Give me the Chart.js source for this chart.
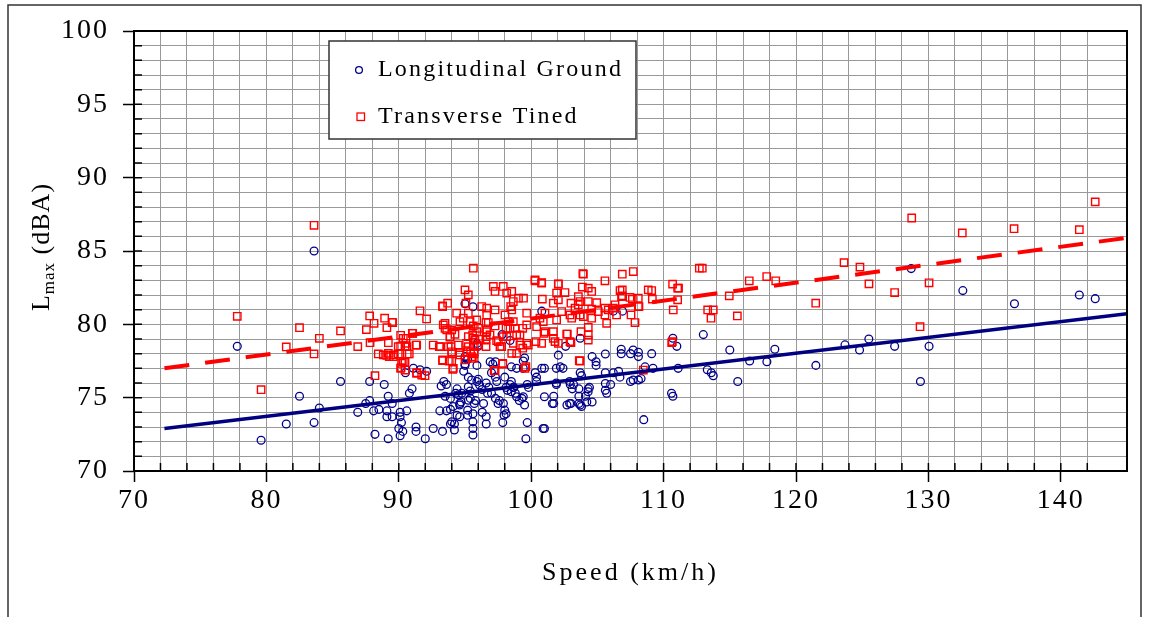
<!DOCTYPE html>
<html>
<head>
<meta charset="utf-8">
<script src="https://cdn.jsdelivr.net/npm/chart.js@4"></script>
<style>
  html, body { margin: 0; padding: 0; background: #fff; }
  #wrap { width: 1153px; height: 617px; position: relative; }
</style>
</head>
<body>
<div id="wrap"><canvas id="chart" width="1153" height="617"></canvas></div>
<script>
// [speed km/h, Lmax dBA]
const groundPoints = [
  [77.8,78.5],[79.6,72.1],[81.5,73.2],[82.5,75.1],[83.6,85.0],[83.6,73.3],[84.0,74.3],[85.6,76.1],
  [86.9,74.0],[87.5,74.6],[87.8,74.8],[87.8,76.1],[88.9,75.9],[89.2,75.1],[89.5,74.6],[88.1,74.1],
  [88.5,74.2],[89.1,74.1],[89.1,73.7],[89.5,73.7],[88.2,72.5],[89.2,72.2],[90.1,74.0],[90.1,73.7],
  [90.2,73.3],[90.0,72.9],[90.1,72.4],[90.3,72.7],[90.6,74.1],[90.8,75.3],[91.0,75.6],[90.5,76.7],
  [91.1,77.0],[91.3,73.0],[91.3,72.7],[92.0,72.2],[91.6,76.9],[92.1,76.8],[92.6,72.9],[93.3,72.7],
  [93.1,74.1],[93.6,74.1],[93.4,76.1],[93.6,75.9],[93.2,75.8],[93.5,75.1],[93.9,74.95],[94.0,73.35],
  [94.2,73.2],[93.9,73.2],[94.2,72.8],[94.1,74.4],[93.9,74.2],[94.4,75.6],[94.3,75.3],[94.6,74.6],
  [94.7,74.7],[94.5,75.2],[94.75,75.3],[94.6,74.5],[94.4,73.8],[94.6,73.7],[95.2,74.15],[95.2,73.8],
  [95.0,77.8],[95.0,77.3],[95.2,77.6],[94.9,76.8],[95.0,77.2],[95.25,76.4],[95.5,76.2],[95.25,75.74],
  [95.4,75.45],[95.4,74.95],[95.25,74.83],[95.7,74.6],[95.8,74.8],[95.6,73.9],[95.6,73.35],[95.6,72.9],
  [95.6,72.45],[95.9,77.2],[95.9,76.1],[96.0,76.25],[96.1,75.86],[96.3,75.56],[96.4,74.6],[96.3,74.0],
  [96.6,73.7],[96.6,73.2],[96.6,76.0],[96.8,75.7],[96.7,75.3],[96.9,77.45],[97.3,77.45],[97.0,76.7],
  [97.1,77.3],[97.3,76.4],[97.4,76.1],[98.0,76.4],[98.1,75.7],[98.2,75.5],[97.0,75.3],[97.3,74.95],
  [97.5,74.6],[97.6,74.8],[97.9,74.6],[98.0,74.15],[97.95,73.8],[97.85,73.3],[98.1,73.9],[98.4,75.9],
  [98.5,75.4],[98.7,75.7],[98.5,77.1],[98.5,76.1],[98.65,75.7],[98.8,75.3],[98.9,75.06],[99.1,74.8],
  [99.3,74.95],[99.4,75.06],[99.7,75.9],[99.8,75.7],[99.5,74.5],[99.7,73.3],[99.6,72.2],[99.4,77.0],
  [99.5,77.7],[98.9,77.0],[99.4,77.5],[100.3,76.7],[100.4,76.4],[100.4,76.1],[100.8,77.0],[101.0,75.06],
  [101.7,75.1],[101.6,74.6],[100.8,80.9],[100.9,72.9],[102.05,77.9],[101.9,77.0],[102.2,77.1],[102.4,77.0],
  [102.9,76.1],[102.95,75.9],[103.2,75.9],[101.9,76.0],[102.7,74.5],[102.9,74.6],[103.6,74.6],[103.8,74.4],
  [104.1,75.1],[104.2,74.7],[104.6,74.7],[103.7,76.7],[103.8,76.5],[103.7,79.05],[104.3,75.6],[104.3,75.4],
  [104.4,75.7],[104.6,77.8],[104.9,77.45],[104.9,77.2],[105.6,77.98],[105.6,75.97],[105.6,75.5],[105.7,75.3],
  [106.0,75.9],[105.6,76.7],[106.2,76.7],[106.6,76.8],[106.7,76.4],[106.8,78.3],[106.8,78.0],[107.5,78.0],
  [107.7,78.25],[108.1,78.1],[108.1,77.8],[109.1,78.0],[107.5,76.1],[107.7,76.2],[108.1,76.2],[108.3,76.3],
  [108.5,73.5],[109.2,77.0],[108.6,77.1],[110.6,75.3],[110.7,75.1],[110.7,79.05],[111.0,78.5],[111.1,77.0],
  [113.0,79.3],[113.3,76.9],[113.6,76.7],[113.75,76.5],[115.0,78.25],[115.6,76.1],[116.5,77.5],[117.8,77.45],
  [118.4,78.3],[121.5,77.2],[123.7,78.6],[124.8,78.25],[125.5,79.0],[127.45,78.5],[128.7,83.8],[129.4,76.1],
  [130.05,78.5],[132.6,82.3],[136.5,81.4],[141.4,82.0],[142.6,81.75],[95.6,81.2],[95.0,81.4],[96.0,78.5],
  [95.9,78.7],[97.8,79.3],[98.4,78.9],[102.6,78.5],[106.9,80.9],[106.2,80.9],[101.0,77.0],[103.1,75.6],
  [103.0,74.6],[103.7,74.5],[101.7,74.6],[101.0,72.9],[101.9,75.9],[103.6,75.6],[103.6,75.1]
];

const tinedPoints = [
  [83.6,86.75],[77.8,80.55],[79.6,75.54],[81.5,78.46],[82.5,79.77],[83.6,77.98],[84.0,79.05],[85.6,79.55],
  [86.9,78.48],[87.55,79.64],[87.8,80.57],[88.13,80.07],[88.93,80.42],[89.1,79.77],[89.5,80.14],[87.83,78.75],
  [88.2,76.5],[88.45,77.98],[89.09,77.89],[89.28,77.79],[89.58,77.79],[89.96,77.98],[90.79,77.98],[89.21,78.75],
  [89.96,78.48],[90.14,79.25],[90.14,78.52],[90.6,78.48],[90.54,79.05],[91.02,79.39],[91.35,78.59],[90.17,77.04],
  [90.47,77.41],[91.35,76.66],[91.98,76.5],[91.6,80.92],[92.1,80.37],[95.63,83.83],[89.54,80.12],[90.54,78.71],
  [91.3,78.59],[90.64,77.98],[89.64,77.91],[89.21,78.02],[88.83,77.91],[90.34,77.45],[90.14,77.0],[91.73,76.54],
  [92.6,78.59],[93.11,78.48],[93.31,81.26],[93.69,81.44],[93.36,79.96],[93.49,79.73],[94.0,79.62],[93.87,79.12],
  [94.37,80.76],[94.87,80.42],[94.62,80.18],[93.74,78.48],[94.0,78.13],[94.49,78.59],[94.62,77.91],[93.31,77.57],
  [94.0,77.52],[94.12,77.0],[95.0,82.35],[95.25,82.01],[95.07,81.44],[95.25,80.76],[95.38,80.18],[95.63,79.89],
  [95.88,80.3],[96.01,79.73],[96.26,81.21],[96.64,81.1],[95.25,79.16],[95.63,79.05],[95.25,78.48],[95.63,78.48],
  [95.93,78.59],[96.13,78.98],[95.68,77.98],[95.5,77.79],[96.64,80.64],[96.59,80.12],[96.64,79.5],[96.59,78.93],
  [96.89,79.28],[97.27,80.98],[97.14,82.58],[97.27,82.24],[97.89,82.58],[98.15,82.13],[98.53,82.24],[97.52,78.82],
  [97.77,78.48],[97.89,79.16],[98.1,79.73],[98.27,80.18],[98.02,80.64],[98.53,80.98],[98.65,80.18],[98.78,79.73],
  [98.9,79.28],[98.65,78.71],[98.53,78.02],[99.15,78.59],[99.15,79.28],[99.36,79.73],[99.66,80.76],[99.66,78.71],
  [99.04,81.78],[99.42,81.78],[99.66,79.96],[100.29,83.03],[100.79,82.81],[100.84,81.72],[100.91,80.18],[100.66,80.42],
  [100.41,79.84],[100.36,78.82],[100.79,78.71],[100.97,79.39],[98.65,81.55],[98.45,81.21],[99.53,77.0],[97.85,77.29],
  [97.2,76.84],[95.0,77.57],[95.12,78.13],[103.94,83.42],[105.57,82.97],[106.88,83.42],[107.71,83.6],[112.92,83.83],
  [102.05,82.74],[101.92,82.13],[102.55,82.17],[102.05,81.67],[101.67,81.44],[103.56,81.89],[103.86,82.54],[104.31,82.47],
  [104.57,82.24],[103.69,81.55],[104.31,81.55],[104.95,81.48],[103.56,81.33],[103.0,81.44],[103.31,81.1],[102.3,80.87],
  [102.93,80.64],[103.06,80.42],[103.69,80.64],[103.94,80.53],[104.57,81.03],[104.57,80.42],[105.07,80.87],[105.57,81.1],
  [105.57,80.64],[105.7,80.07],[106.2,81.1],[106.45,80.64],[106.33,81.33],[105.82,80.98],[106.88,82.35],[106.88,81.94],
  [107.64,81.72],[108.09,81.78],[108.09,81.21],[109.1,82.3],[109.15,81.72],[107.54,80.64],[107.84,80.12],[110.68,82.74],
  [111.06,82.47],[111.06,81.67],[110.73,80.98],[104.31,79.8],[104.31,79.28],[104.31,78.93],[103.76,79.5],[102.68,79.34],
  [102.93,78.82],[101.67,79.05],[101.8,78.82],[102.05,78.71],[101.04,79.5],[101.92,80.3],[101.04,80.76],[103.63,77.52],
  [110.66,78.82],[108.47,76.88],[100.29,82.97],[100.79,82.85],[102.05,82.76],[103.9,83.45],[108.84,82.35],[108.14,81.21],
  [106.71,82.3],[106.82,81.89],[107.46,81.83],[112.7,83.83],[110.61,78.75],[103.69,77.5],[90.34,79.05],[91.05,79.39],
  [90.47,78.48],[90.21,77.34],[90.47,76.88],[91.35,76.7],[93.06,78.48],[93.31,77.52],[93.81,77.5],[93.31,81.21],
  [93.49,80.07],[93.62,79.62],[93.87,79.16],[93.94,78.48],[94.24,79.32],[94.0,77.98],[94.62,78.07],[95.12,78.71],
  [95.42,78.13],[95.68,78.07],[95.63,77.68],[94.07,76.93],[95.75,78.93],[95.58,79.28],[95.88,79.5],[96.64,79.62],
  [97.27,79.89],[96.59,78.48],[96.59,79.16],[96.76,80.12],[97.39,78.89],[97.64,78.48],[98.15,79.16],[98.4,79.73],
  [97.85,77.34],[99.6,77.11],[98.9,78.02],[99.36,78.37],[99.78,78.59],[97.27,76.84],[101.67,79.5],[102.73,79.34],
  [103.0,78.75],[113.33,80.98],[113.75,80.98],[113.58,80.42],[114.96,81.94],[115.57,80.57],[116.47,82.97],[117.79,83.26],
  [118.47,82.97],[121.49,81.44],[123.63,84.2],[124.83,83.9],[125.51,82.76],[127.45,82.17],[128.74,87.25],[129.37,79.84],
  [130.05,82.83],[132.56,86.23],[136.47,86.52],[141.4,86.45],[142.6,88.35],[111.13,82.47]
];

// regression lines, end points
const groundFit = [[72.3, 72.9], [145, 80.73]];
const tinedFit = [[72.3, 77.0], [145, 85.9]];

const xRange = [70, 145];
const yRange = [70, 100];
const xMajor = 10, xMinor = 2;
const yMajor = 5, yMinor = 1;

const SERIF = "'Liberation Serif', 'Times New Roman', serif";
const NAVY = "#000080";
const BLUE = "#00008b";
const RED = "#ff0000";

const toXY = arr => arr.map(p => ({ x: p[0], y: p[1] }));

// inner minor ticks, box border, legend, axis titles
const decorations = {
  id: "decorations",
  beforeDraw(chart) {
    chart.ctx.letterSpacing = "2px";
  },
  afterDraw(chart) {
    const { ctx, chartArea: a, scales } = chart;
    ctx.save();
    ctx.letterSpacing = "0px";

    // outer frame of the figure
    ctx.strokeStyle = "#333";
    ctx.lineWidth = 1.5;
    ctx.beginPath();
    ctx.moveTo(8, 617);
    ctx.lineTo(8, 5);
    ctx.lineTo(1141, 5);
    ctx.lineTo(1141, 617);
    ctx.stroke();

    // inner ticks
    ctx.strokeStyle = "#000";
    ctx.lineWidth = 1.5;
    ctx.beginPath();
    scales.y.ticks.forEach(t => {
      const y = scales.y.getPixelForValue(t.value);
      ctx.moveTo(a.left, y);
      ctx.lineTo(a.left + 8, y);
    });
    scales.x.ticks.forEach(t => {
      const x = scales.x.getPixelForValue(t.value);
      ctx.moveTo(x, a.bottom);
      ctx.lineTo(x, a.bottom - 8);
    });
    ctx.stroke();

    // plot box
    ctx.lineWidth = 2;
    ctx.strokeRect(a.left, a.top, a.right - a.left, a.bottom - a.top);

    // legend
    const lx = 329, ly = 41, lw = 307, lh = 98;
    ctx.fillStyle = "#fff";
    ctx.fillRect(lx, ly, lw, lh);
    ctx.strokeStyle = "#333";
    ctx.lineWidth = 1.5;
    ctx.strokeRect(lx, ly, lw, lh);

    ctx.lineWidth = 1.3;
    ctx.strokeStyle = BLUE;
    ctx.beginPath();
    ctx.arc(359, 70, 3.4, 0, Math.PI * 2);
    ctx.stroke();
    ctx.strokeStyle = RED;
    ctx.strokeRect(357, 113, 7.5, 7.5);

    ctx.fillStyle = "#000";
    ctx.font = "24px " + SERIF;
    ctx.letterSpacing = "2.2px";
    ctx.textAlign = "left";
    ctx.textBaseline = "middle";
    ctx.fillText(chart.data.datasets[3].label, 378, 70);
    ctx.fillText(chart.data.datasets[2].label, 378, 117);

    // x title
    ctx.font = "26px " + SERIF;
    ctx.letterSpacing = "3px";
    ctx.textAlign = "center";
    ctx.fillText("Speed (km/h)", (a.left + a.right) / 2, 573);

    // y title with subscript
    ctx.translate(40, 247);
    ctx.rotate(-Math.PI / 2);
    ctx.letterSpacing = "1px";
    ctx.textAlign = "left";
    ctx.textBaseline = "alphabetic";
    ctx.font = "26px " + SERIF;
    const wL = ctx.measureText("L").width;
    const rest = " (dBA)";
    const wR = ctx.measureText(rest).width;
    ctx.font = "17px " + SERIF;
    const wM = ctx.measureText("max").width;
    let x0 = -(wL + wM + wR) / 2;
    ctx.font = "26px " + SERIF;
    ctx.fillText("L", x0, 9);
    ctx.font = "17px " + SERIF;
    ctx.fillText("max", x0 + wL, 14);
    ctx.font = "26px " + SERIF;
    ctx.fillText(rest, x0 + wL + wM, 9);
    ctx.restore();
  }
};

new Chart(document.getElementById("chart"), {
  type: "scatter",
  data: {
    datasets: [
      {
        type: "line",
        label: "Ground fit",
        data: toXY(groundFit),
        borderColor: NAVY,
        borderWidth: 3.5,
        pointRadius: 0,
        fill: false
      },
      {
        type: "line",
        label: "Tined fit",
        data: toXY(tinedFit),
        borderColor: RED,
        borderWidth: 4,
        borderDash: [25, 16],
        pointRadius: 0,
        fill: false
      },
      {
        label: "Transverse Tined",
        data: toXY(tinedPoints),
        pointStyle: "rect",
        pointRadius: 5.2,
        borderColor: RED,
        backgroundColor: "rgba(0,0,0,0)",
        borderWidth: 1.4
      },
      {
        label: "Longitudinal Ground",
        data: toXY(groundPoints),
        pointStyle: "circle",
        pointRadius: 3.9,
        borderColor: BLUE,
        backgroundColor: "rgba(0,0,0,0)",
        borderWidth: 1.3
      }
    ]
  },
  options: {
    responsive: false,
    animation: false,
    layout: { padding: { left: 0, top: 31, right: 26, bottom: 0 } },
    plugins: {
      legend: { display: false },
      tooltip: { enabled: false }
    },
    scales: {
      x: {
        type: "linear",
        min: xRange[0],
        max: xRange[1],
        afterFit: s => { s.height = 146; },
        border: { display: false },
        grid: {
          color: "#999",
          lineWidth: 1,
          tickLength: 11,
          tickWidth: 1.5,
          tickColor: c => (c.tick && c.tick.value % xMajor === 0) ? "#000" : "rgba(0,0,0,0)"
        },
        ticks: {
          stepSize: xMinor,
          autoSkip: false,
          maxRotation: 0,
          padding: 2,
          color: "#000",
          font: { family: SERIF, size: 28 },
          callback: v => (v % xMajor === 0 ? String(v) : "")
        }
      },
      y: {
        type: "linear",
        min: yRange[0],
        max: yRange[1],
        afterFit: s => { s.width = 134; },
        border: { display: false },
        grid: {
          color: "#999",
          lineWidth: 1,
          tickLength: 11,
          tickWidth: 1.5,
          tickColor: c => (c.tick && c.tick.value % yMajor === 0) ? "#000" : "rgba(0,0,0,0)"
        },
        ticks: {
          stepSize: yMinor,
          autoSkip: false,
          padding: 14,
          color: "#000",
          font: { family: SERIF, size: 28 },
          callback: v => (v % yMajor === 0 ? String(v) : "")
        }
      }
    }
  },
  plugins: [decorations]
});
</script>
</body>
</html>
